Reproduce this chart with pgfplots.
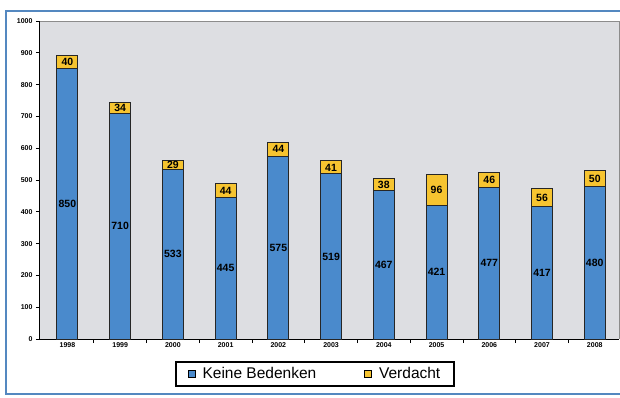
\documentclass[border=0pt]{standalone}
\usepackage{pgfplots}
\pgfplotsset{compat=1.18}
\usepackage{pgfplotstable}
\usepackage{fontspec}
\setmainfont{Liberation Sans}
\definecolor{barblue}{RGB}{74,138,204}
\definecolor{baryellow}{RGB}{246,196,48}
\definecolor{frameblue}{RGB}{84,136,192}
\definecolor{plotbg}{RGB}{221,222,226}
\pgfplotstableread{
x kb vd
0 850 40
1 710 34
2 533 29
3 445 44
4 575 44
5 519 41
6 467 38
7 421 96
8 477 46
9 417 56
10 480 50
}\data
\begin{document}
\begin{tikzpicture}
\fill[white] (-40pt,-58pt) rectangle (580pt,339pt);
\begin{axis}[
  at={(0pt,0pt)}, anchor=south west,
  scale only axis, width=579pt, height=318pt,
  xmin=-0.52, xmax=10.46, ymin=0, ymax=1000,
  axis lines*=left,
  axis line style={black, line width=1pt},
  axis background/.style={fill=plotbg},
  ytick={0,100,...,1000},
  xtick={0.5,1.5,...,9.5}, xticklabels={},
  extra x ticks={0,...,10},
  extra x tick labels={1998,1999,2000,2001,2002,2003,2004,2005,2006,2007,2008},
  extra x tick style={major tick length=0pt},
  tick align=outside, major tick length=4pt,
  tick style={black, line width=0.8pt},
  ticklabel style={font=\bfseries\fontsize{7}{8}\selectfont},
  /pgf/number format/assume math mode=true,
  /pgf/number format/1000 sep={},
  bar width=21pt,
  legend columns=2,
  reverse legend,
  legend style={at={(0.475,-0.110)}, anchor=center, draw=black, line width=1.8pt,
    fill=white, font=\fontsize{15.5}{18}\selectfont,
    /tikz/every odd column/.append style={column sep=5pt},
    /tikz/every even column/.append style={column sep=46pt},
    inner xsep=12pt, inner ysep=3.5pt},
  legend image code/.code={\draw[#1, draw=black, line width=0.8pt] (0pt,-3.5pt) rectangle (7pt,3.5pt);},
  after end axis/.code={\draw[black!45, line width=1pt] (rel axis cs:0,1) -- (rel axis cs:1,1) -- (rel axis cs:1,0);},
]
\addplot[ybar, bar shift=0pt, fill=baryellow, draw=black!85, line width=1pt] table[x=x, y expr=\thisrow{kb}+\thisrow{vd}] {\data};
\addlegendentry{Verdacht}
\addplot[ybar, bar shift=0pt, fill=barblue, draw=black!85, line width=1pt] table[x=x, y=kb] {\data};
\addlegendentry{Keine Bedenken}
\addplot[forget plot, draw=none, mark=none, nodes near coords, point meta=explicit symbolic,
  every node near coord/.append style={anchor=center, font=\bfseries\fontsize{10.5}{12}\selectfont, text=black}]
  table[x=x, y expr=\thisrow{kb}/2, meta=kb] {\data};
\addplot[forget plot, draw=none, mark=none, nodes near coords, point meta=explicit symbolic,
  every node near coord/.append style={anchor=center, font=\bfseries\fontsize{10.5}{12}\selectfont, text=black}]
  table[x=x, y expr=\thisrow{kb}+\thisrow{vd}/2, meta=vd] {\data};
\end{axis}
\draw[frameblue, line width=2.5pt] (590pt,328pt) -- (-34pt,328pt) -- (-34pt,-55pt) -- (590pt,-55pt);
\pgfresetboundingbox
\path (-40pt,-58pt) rectangle (580pt,339pt);
\end{tikzpicture}
\end{document}
